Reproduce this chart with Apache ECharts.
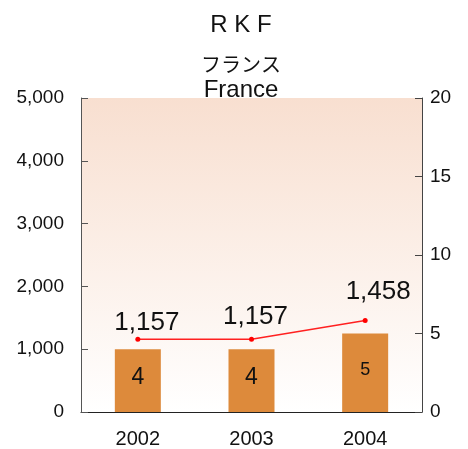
<!DOCTYPE html>
<html><head><meta charset="utf-8">
<script src="https://cdn.jsdelivr.net/npm/echarts@6/dist/echarts.min.js"></script>
<style>html,body{margin:0;padding:0;background:#fff}#c{width:468px;height:449px}</style>
</head><body><div id="c"></div>
<script>
const categories = ['2002', '2003', '2004'];
const barValues = [4, 4, 5];
const lineValues = [1157, 1157, 1458];
const leftTicks = [0, 1000, 2000, 3000, 4000, 5000];
const rightTicks = [0, 5, 10, 15, 20];

const barLabelSize = [23, 23, 18];
const lineLabelOffset = [[9, -1], [4, -7], [13, -13]];
const chart = echarts.init(document.getElementById('c'));
const font = 'Liberation Sans, Arial, sans-serif';
chart.setOption({
  animation: false,
  title: [
    {text: 'R K F', left: 236, textAlign: 'center', top: 8, textStyle: {fontSize: 24, fontWeight: 'normal', color: '#111', fontFamily: font}},
    {text: 'フランス', left: 236, textAlign: 'center', top: 49, textStyle: {fontSize: 20, fontWeight: 'normal', color: '#111', fontFamily: 'Noto Sans CJK JP, sans-serif'}},
    {text: 'France', left: 236, textAlign: 'center', top: 73, textStyle: {fontSize: 24, fontWeight: 'normal', color: '#111', fontFamily: font}}
  ],
  grid: {left: 81, right: 46, top: 98, bottom: 36,
    show: true, borderWidth: 0,
    backgroundColor: {type: 'linear', x: 0, y: 0, x2: 0, y2: 1, colorStops: [{offset: 0, color: '#f8dfd0'}, {offset: 1, color: '#ffffff'}]}},
  xAxis: {type: 'category', data: categories,
    axisLine: {lineStyle: {color: '#222', width: 1}},
    axisTick: {inside: true, length: 5, lineStyle: {color: '#222'}},
    axisLabel: {fontSize: 20, color: '#111', margin: 17, fontFamily: font}},
  yAxis: [
    {type: 'value', min: leftTicks[0], max: leftTicks[leftTicks.length - 1], interval: 1000,
      splitLine: {show: false},
      axisLine: {show: true, lineStyle: {color: '#555'}},
      axisTick: {show: true, inside: true, length: 7, lineStyle: {color: '#555'}},
      axisLabel: {fontSize: 19, color: '#111', margin: 17, fontFamily: font,
        formatter: v => v.toLocaleString('en-US')}},
    {type: 'value', min: rightTicks[0], max: rightTicks[rightTicks.length - 1], interval: 5,
      splitLine: {show: false},
      axisLine: {show: true, lineStyle: {color: '#444'}},
      axisTick: {show: true, inside: true, length: 7, lineStyle: {color: '#444'}},
      axisLabel: {fontSize: 19, color: '#111', margin: 8, fontFamily: font}}
  ],
  series: [
    {type: 'bar', yAxisIndex: 1, barWidth: 46,
      itemStyle: {color: '#dd8a3b'},
      data: barValues.map((v, i) => ({value: v, label: {fontSize: barLabelSize[i]}})),
      label: {show: true, position: 'inside', color: '#111', fontFamily: font, offset: [0, -3]}},
    {type: 'line', yAxisIndex: 0,
      data: lineValues.map((v, i) => ({value: v, label: {offset: lineLabelOffset[i]}})),
      symbol: 'circle', symbolSize: 5,
      lineStyle: {color: '#ff2020', width: 1.5},
      itemStyle: {color: '#ff0000'},
      label: {show: true, position: 'top', distance: 0, fontSize: 26, color: '#111', fontFamily: font,
        formatter: p => p.value.toLocaleString('en-US')}}
  ]
});
</script></body></html>
